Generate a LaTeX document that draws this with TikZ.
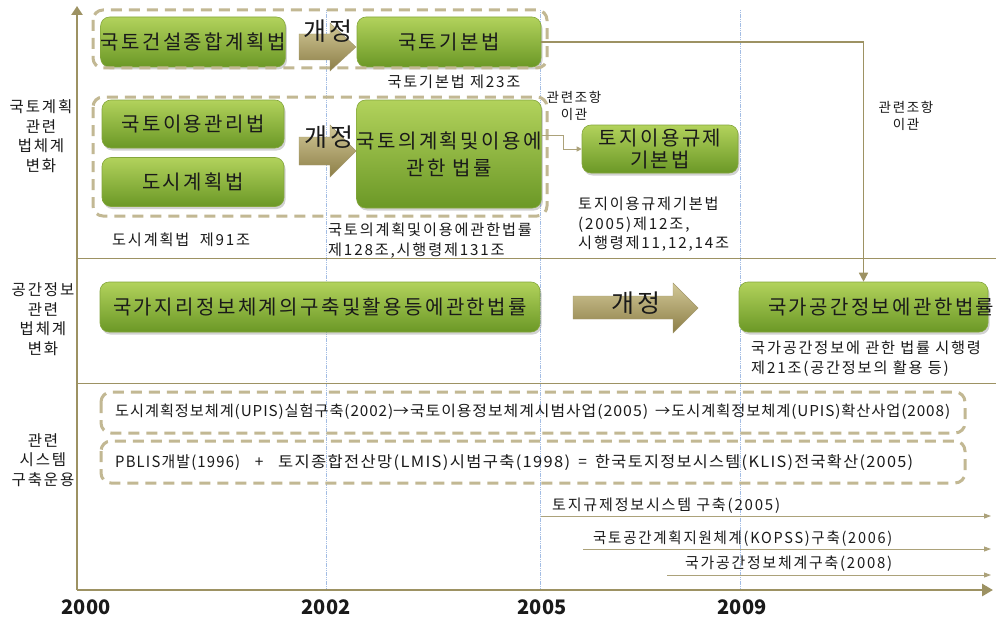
\documentclass[tikz,border=0pt]{standalone}
\usepackage{fontspec}
\setmainfont{Noto Sans CJK KR}[LetterSpace=12]
\usetikzlibrary{arrows.meta,shadows}
\definecolor{axisc}{HTML}{9D9263}
\definecolor{dashc}{HTML}{C2B893}
\definecolor{greentop}{HTML}{B2D25C}
\definecolor{greenbot}{HTML}{6B9826}
\definecolor{greenline}{HTML}{84A63C}
\definecolor{arrtop}{HTML}{D2C897}
\definecolor{arrbot}{HTML}{8C7E47}
\definecolor{bluel}{HTML}{A3BDE4}
\definecolor{txt}{HTML}{1A1A1A}
\newcommand\fsS{\fontsize{15.2}{19.5}\selectfont}
\newcommand\fsL{\fontsize{15.5}{19.5}\selectfont}
\newcommand\fsB{\fontsize{20}{27}\selectfont}
\newcommand\fsK{\fontsize{25}{26}\selectfont}
\newsavebox\fitbx
\newcommand\fitwd[2]{\sbox\fitbx{#2}\pgfmathsetmacro\fitfac{#1/\the\wd\fitbx}\scalebox{\fitfac}[1]{\usebox\fitbx}}
\tikzset{
  gbox/.style={draw=greenline, line width=0.6pt, rounded corners=9pt,
    top color=greentop, bottom color=greenbot,
    drop shadow={opacity=0.35,shadow xshift=1.5pt,shadow yshift=-2.5pt},
    inner sep=0pt, align=center, text=txt, font=\fsB},
  dashbox/.style={draw=dashc, line width=3pt, dash pattern=on 11pt off 7pt, rounded corners=10pt},
  kfill/.style={top color=arrtop, bottom color=arrbot, draw=arrbot!80, line width=0.4pt},
  lbl/.style={inner sep=0pt, text=txt, font=\fsS, align=left},
  axisline/.style={draw=axisc, line width=2.8pt},
  sepline/.style={draw=axisc, line width=1pt},
  conn/.style={draw=axisc, line width=1.6pt},
  thinconn/.style={draw=axisc!85, line width=0.9pt},
  yearl/.style={inner sep=0pt, font=\fontsize{20}{20}\selectfont\bfseries\addfontfeatures{LetterSpace=0}, text=txt},
  bluev/.style={draw=bluel, line width=0.8pt, dash pattern=on 1.2pt off 0.6pt}
}
\begin{document}
\begin{tikzpicture}[x=1pt,y=-1pt]
\useasboundingbox (0,0) rectangle (998,618);
\fill[white] (0,0) rectangle (998,618);

% blue year guides
\coordinate (b1t) at (326,10); \coordinate (b1b) at (326,590);
\coordinate (b2t) at (540,10); \coordinate (b2b) at (540,590);
\coordinate (b3t) at (740,10); \coordinate (b3b) at (740,590);
\draw[bluev] (b1t) -- (b1b);
\draw[bluev] (b2t) -- (b2b);
\draw[bluev] (b3t) -- (b3b);

% separators
\coordinate (s1a) at (77,258); \coordinate (s1b) at (996,258);
\coordinate (s2a) at (77,383); \coordinate (s2b) at (996,383);
\draw[sepline] (s1a) -- (s1b);
\draw[sepline] (s2a) -- (s2b);

% axes
\coordinate (org) at (77,590);
\coordinate (ytop) at (77,6);
\coordinate (xend) at (993,590);
\draw[axisline,-{Triangle[length=9pt,width=11pt]}] (org) -- (ytop);
\draw[axisline,-{Triangle[length=11pt,width=12pt]}] (org) -- (xend);

% left labels
\node[inner sep=0pt, align=center, font=\fsL, text=txt] (lab1) at (41,136) {국토계획\\관련\\법체계\\변화};
\node[inner sep=0pt, align=center, font=\fsL, text=txt] (lab2) at (43,319) {공간정보\\관련\\법체계\\변화};
\node[inner sep=0pt, align=center, font=\fsL, text=txt] (lab3) at (43,460) {관련\\시스템\\구축운용};

% years
\node[yearl] (y2000) at (86,607) {2000};
\node[yearl] (y2002) at (326,607) {2002};
\node[yearl] (y2005) at (542,607) {2005};
\node[yearl] (y2009) at (742,607) {2009};

% ===== top band =====
\node[gbox, minimum width=182pt, minimum height=50pt] (kc) at (193,42) {국토건설종합계획법};
\node[gbox, minimum width=184pt, minimum height=50pt] (kb) at (449,42) {국토기본법};
\node[gbox, minimum width=182pt, minimum height=48pt] (ku) at (193,124) {국토이용관리법};
\node[gbox, minimum width=182pt, minimum height=49pt] (dc) at (193,182) {도시계획법};
\node[gbox, minimum width=184pt, minimum height=108pt] (kp) at (449,154) {국토의계획및이용에\\관한 법률};
\node[gbox, minimum width=156pt, minimum height=48pt, font=\fontsize{20}{22}\selectfont] (tl) at (660,149) {토지이용규제\\기본법};

% dashed groups
\draw[dashbox] (93,10) rectangle (547,68);
\draw[dashbox] (93,97) rectangle (547,216);

% revision arrows
\path[kfill] (299,34) -- (330,34) -- (330,23) -- (356,47) -- (330,71) -- (330,60) -- (299,60) -- cycle;
\node[inner sep=0pt, font=\fsK, text=txt] (rv1) at (328,31) {개정};
\path[kfill] (299,137) -- (330,137) -- (330,125) -- (356,151) -- (330,177) -- (330,165) -- (299,165) -- cycle;
\node[inner sep=0pt, font=\fsK, text=txt] (rv2) at (329,137) {개정};

% top labels
\node[lbl] (t23) at (454,82) {국토기본법 제23조};
\node[lbl, anchor=west] (t91) at (112,240) {도시계획법\ \ 제91조};
\node[lbl, anchor=north west] (t128) at (328,223) {국토의계획및이용에관한법률\\제128조,시행령제131조};
\node[lbl, anchor=north west] (t12) at (578,197) {토지이용규제기본법\\(2005)제12조,\\시행령제11,12,14조};
\node[lbl, align=center, font=\fontsize{13.5}{17.5}\selectfont] (rel1) at (574,106) {관련조항\\이관};
\node[lbl, align=center, font=\fontsize{13.5}{17.5}\selectfont] (rel2) at (906,116) {관련조항\\이관};

% ===== middle band =====
\node[gbox, minimum width=440pt, minimum height=50pt] (ng) at (320,307) {국가지리정보체계의구축및활용등에관한법률};
\node[gbox, minimum width=249pt, minimum height=50pt, text width=249pt, align=left] (gs) at (863.5,307) {\hspace*{29pt}국가공간정보에관한법률};
\path[kfill] (573,296) -- (673,296) -- (673,283) -- (698,308) -- (673,333) -- (673,319) -- (573,319) -- cycle;
\node[inner sep=0pt, font=\fsK, text=txt] (rv3) at (636,303) {개정};
\node[lbl, anchor=north west] (t21) at (751,341) {국가공간정보에 관한 법률 시행령\\제21조(공간정보의 활용 등)};

% connectors
\draw[conn,-{Triangle[length=9pt,width=9pt]}] (kb.east) -| (gs.north);
\draw[thinconn,-{Triangle[length=5pt,width=5pt]}] ([yshift=19pt]kp.east) -- ++(22,0) |- (tl.west);

% ===== bottom band =====
\draw[dashbox] (101,392) rectangle (965,433);
\node[lbl, anchor=west, font=\fontsize{15}{17}\selectfont\addfontfeatures{LetterSpace=6}] (upis) at (115,412) {\fitwd{278}{도시계획정보체계(UPIS)실험구축(2002)}\fitwd{255}{→국토이용정보체계시범사업(2005)}\hspace{7pt}\fitwd{295}{→도시계획정보체계(UPIS)확산사업(2008)}};
\draw[dashbox] (101,441) rectangle (965,483);
\node[lbl, anchor=west, font=\fontsize{15.5}{17}\selectfont\addfontfeatures{LetterSpace=8}] (pblis) at (115,463) {\fitwd{125}{PBLIS개발(1996)}\makebox[38pt]{+}\fitwd{292}{토지종합전산망(LMIS)시범구축(1998)}\makebox[25pt]{=}\fitwd{318}{한국토지정보시스템(KLIS)전국확산(2005)}};

\coordinate (a1s) at (541,516); \coordinate (a1e) at (991,516);
\coordinate (a2s) at (583,549); \coordinate (a2e) at (991,549);
\coordinate (a3s) at (667,575); \coordinate (a3e) at (991,575);
\draw[thinconn,-{Triangle[length=7pt,width=5pt]}] (a1s) -- (a1e);
\draw[thinconn,-{Triangle[length=7pt,width=5pt]}] (a2s) -- (a2e);
\draw[thinconn,-{Triangle[length=7pt,width=5pt]}] (a3s) -- (a3e);
\node[lbl, anchor=west] (r1) at (552,506) {\fitwd{228}{토지규제정보시스템 구축(2005)}};
\node[lbl, anchor=west] (r2) at (593,539) {\fitwd{299}{국토공간계획지원체계(KOPSS)구축(2006)}};
\node[lbl, anchor=west] (r3) at (685,564) {\fitwd{207}{국가공간정보체계구축(2008)}};
\end{tikzpicture}
\end{document}
